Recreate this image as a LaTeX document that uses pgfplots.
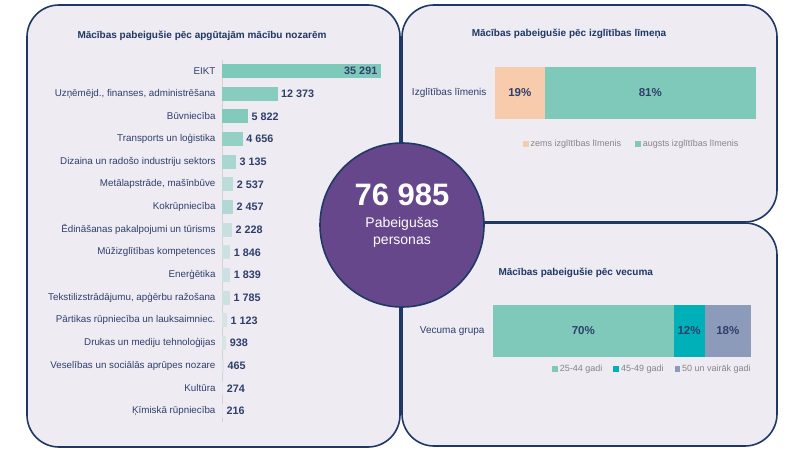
\documentclass[border=0pt]{standalone}
\usepackage{fontspec}
\setmainfont{Liberation Sans}
\usepackage{pgfplots}
\pgfplotsset{compat=1.18}
\definecolor{navy}{HTML}{1F3864}
\definecolor{lbl}{HTML}{2F3F6B}
\definecolor{panel}{HTML}{EEEBF3}
\definecolor{teal1}{HTML}{7FC9BA}
\definecolor{teal2}{HTML}{00B0B9}
\definecolor{grayblue}{HTML}{8B9BB9}
\definecolor{peach}{HTML}{F8CBAD}
\definecolor{purple1}{HTML}{67478B}
\definecolor{leg}{HTML}{858585}
\begin{document}
\begin{tikzpicture}[x=1pt,y=1pt]
\useasboundingbox (0,0) rectangle (800,450);
\fill[white] (0,0) rectangle (800,450);
% panels
\draw[navy, line width=1.6pt, fill=panel, rounded corners=32pt] (27,3) rectangle (400,445);
\draw[navy, line width=1.6pt, fill=panel, rounded corners=32pt] (402,228) rectangle (777,445);
\draw[navy, line width=1.6pt, fill=panel, rounded corners=32pt] (402,4) rectangle (777,227);
% titles
\node[font=\bfseries\fontsize{10}{11}\selectfont, text=navy] at (202,414) {Mācības pabeigušie pēc apgūtajām mācību nozarēm};
\node[font=\bfseries\fontsize{10}{11}\selectfont, text=navy] at (569,416) {Mācības pabeigušie pēc izglītības līmeņa};
\node[font=\bfseries\fontsize{10}{11}\selectfont, text=navy, anchor=west] at (495,177) {Mācības pabeigušie pēc vecuma};

% left bar chart
\begin{axis}[at={(222pt,27.7pt)}, anchor=south west, scale only axis,
  width=170pt, height=362.6pt, xmin=0, xmax=37778, ymin=-0.5, ymax=15.5,
  y dir=reverse, xbar, bar width=14pt, bar shift=0pt,
  axis x line=none, axis y line=left,
  axis line style={-, draw=gray!35, line width=0.8pt},
  ytick={0,...,15},
  yticklabels={EIKT,{Uzņēmējd., finanses, administrēšana},Būvniecība,Transports un loģistika,Dizaina un radošo industriju sektors,{Metālapstrāde, mašīnbūve},Kokrūpniecība,Ēdināšanas pakalpojumi un tūrisms,Mūžizglītības kompetences,Enerģētika,{Tekstilizstrādājumu, apģērbu ražošana},Pārtikas rūpniecība un lauksaimniec.,Drukas un mediju tehnoloģijas,Veselības un sociālās aprūpes nozare,Kultūra,Ķīmiskā rūpniecība},
  yticklabel style={font=\fontsize{9.8}{11}\selectfont, text=lbl, xshift=-3pt},
  major tick length=0pt,
  nodes near coords,
  every node near coord/.append style={font=\bfseries\fontsize{10.8}{12}\selectfont, text=lbl},
  /pgf/number format/.cd, fixed, precision=0, 1000 sep={\ }, assume math mode=true]
\addplot[draw=none, fill=teal1, nodes near coords align={anchor=east}] coordinates {(35291,0)};
\addplot[draw=none, fill=teal1!92!panel] coordinates {(12373,1)};
\addplot[draw=none, fill=teal1!96!panel] coordinates {(5822,2)};
\addplot[draw=none, fill=teal1!80!panel] coordinates {(4656,3)};
\addplot[draw=none, fill=teal1!62!panel] coordinates {(3135,4)};
\addplot[draw=none, fill=teal1!45!panel] coordinates {(2537,5)};
\addplot[draw=none, fill=teal1!55!panel] coordinates {(2457,6)};
\addplot[draw=none, fill=teal1!35!panel] coordinates {(2228,7)};
\addplot[draw=none, fill=teal1!30!panel] coordinates {(1846,8)};
\addplot[draw=none, fill=teal1!30!panel] coordinates {(1839,9)};
\addplot[draw=none, fill=teal1!30!panel] coordinates {(1785,10)};
\addplot[draw=none, fill=teal1!22!panel] coordinates {(1123,11)};
\addplot[draw=none, fill=teal1!22!panel] coordinates {(938,12)};
\addplot[draw=none, fill=teal1!15!panel] coordinates {(465,13)};
\addplot[draw=none, fill=teal1!12!panel] coordinates {(274,14)};
\addplot[draw=none, fill=teal1!12!panel] coordinates {(216,15)};
\end{axis}

% top right: education level
\begin{axis}[at={(495pt,331pt)}, anchor=south west, scale only axis,
  width=261pt, height=52pt, xmin=0, xmax=100, ymin=-0.5, ymax=0.5,
  xbar stacked, bar width=52pt,
  axis line style={draw=none}, xtick=\empty, ytick={0},
  yticklabels={Izglītības līmenis},
  yticklabel style={font=\fontsize{10}{11}\selectfont, text=lbl, xshift=-5pt},
  major tick length=0pt,
  every node near coord/.append style={font=\bfseries\fontsize{11.5}{13}\selectfont, text=lbl, anchor=center},
  legend columns=-1,
  legend image code/.code={\fill[#1] (0pt,-2.8pt) rectangle (5.6pt,2.8pt);},
  legend style={at={(0.107,-0.48)}, anchor=west, draw=none, fill=none, inner sep=0pt,
    font=\fontsize{9}{10}\selectfont, text=leg,
    /tikz/every even column/.append style={column sep=12pt}}]
\addplot[draw=none, fill=peach, nodes near coords={19\%}] coordinates {(19,0)};
\addplot[draw=none, fill=teal1, nodes near coords={81\%}] coordinates {(81,0)};
\legend{zems izglītības līmenis, augsts izglītības līmenis}
\end{axis}

% bottom right: age
\begin{axis}[at={(493pt,93pt)}, anchor=south west, scale only axis,
  width=258pt, height=52pt, xmin=0, xmax=100, ymin=-0.5, ymax=0.5,
  xbar stacked, bar width=52pt,
  axis line style={draw=none}, xtick=\empty, ytick={0},
  yticklabels={Vecuma grupa},
  yticklabel style={font=\fontsize{10}{11}\selectfont, text=lbl, xshift=-5pt},
  major tick length=0pt,
  every node near coord/.append style={font=\bfseries\fontsize{11.5}{13}\selectfont, text=lbl, anchor=center},
  legend columns=-1,
  legend image code/.code={\fill[#1] (0pt,-2.8pt) rectangle (5.6pt,2.8pt);},
  legend style={at={(0.229,-0.23)}, anchor=west, draw=none, fill=none, inner sep=0pt,
    font=\fontsize{9}{10}\selectfont, text=leg,
    /tikz/every even column/.append style={column sep=9pt}}]
\addplot[draw=none, fill=teal1, nodes near coords={70\%}] coordinates {(70,0)};
\addplot[draw=none, fill=teal2, nodes near coords={12\%}] coordinates {(12,0)};
\addplot[draw=none, fill=grayblue, nodes near coords={18\%}] coordinates {(18,0)};
\legend{25-44 gadi, 45-49 gadi, 50 un vairāk gadi}
\end{axis}

% central circle
\draw[navy, line width=1.6pt, fill=purple1] (402,225) circle (82);
\node[font=\bfseries\fontsize{31}{33}\selectfont, text=white] at (402,255) {76 985};
\node[font=\fontsize{14}{16}\selectfont, text=white] at (402,226) {Pabeigušas};
\node[font=\fontsize{14}{16}\selectfont, text=white] at (402,208) {personas};
\end{tikzpicture}
\end{document}
